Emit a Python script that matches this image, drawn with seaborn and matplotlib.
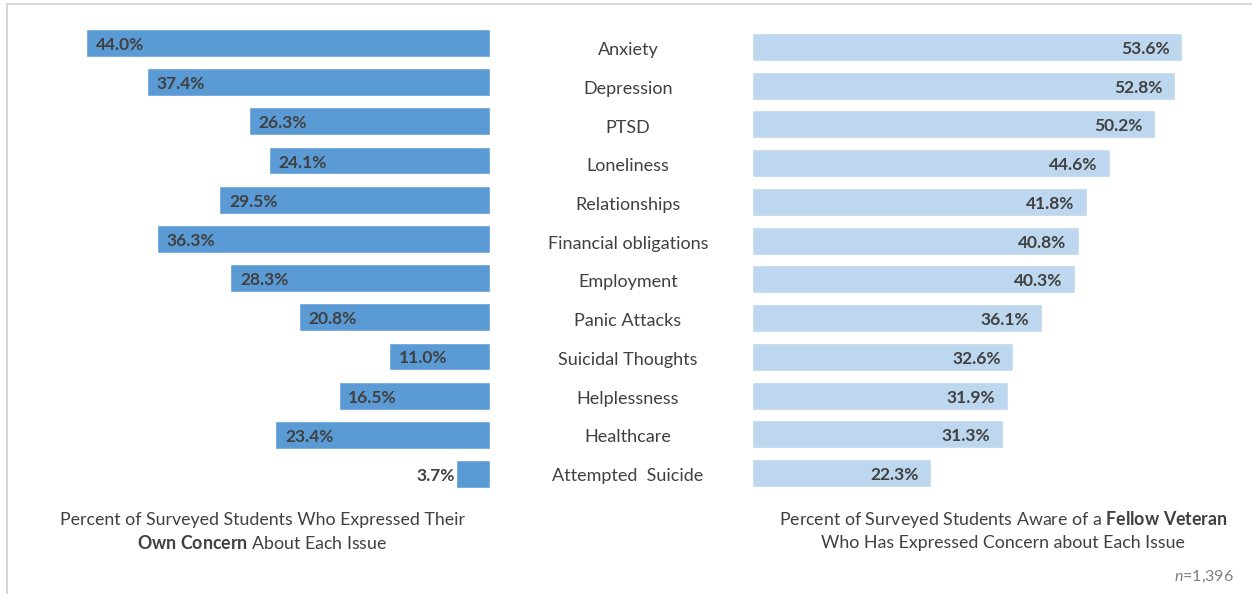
import matplotlib
matplotlib.use("Agg")
import matplotlib.pyplot as plt
import matplotlib.transforms as mtransforms
from matplotlib.lines import Line2D
import seaborn as sns
import pandas as pd

# datos
issues = ["Anxiety", "Depression", "PTSD", "Loneliness", "Relationships",
          "Financial obligations", "Employment", "Panic Attacks",
          "Suicidal Thoughts", "Helplessness", "Healthcare", "Attempted  Suicide"]
own_concern = [44.0, 37.4, 26.3, 24.1, 29.5, 36.3, 28.3, 20.8, 11.0, 16.5, 23.4, 3.7]
fellow_veteran = [53.6, 52.8, 50.2, 44.6, 41.8, 40.8, 40.3, 36.1, 32.6, 31.9, 31.3, 22.3]

df = pd.DataFrame({"issue": issues, "own": own_concern, "fellow": fellow_veteran})

sns.set_theme(style="white")
plt.rcParams["font.family"] = ["Lato", "DejaVu Sans"]
plt.rcParams["mathtext.fontset"] = "custom"
plt.rcParams["mathtext.rm"] = "Lato"
plt.rcParams["mathtext.bf"] = "Lato:bold"
plt.rcParams["mathtext.it"] = "Lato:italic"

W, H = 1252, 594
fig = plt.figure(figsize=(W / 100, H / 100), dpi=100)
fig.patch.set_facecolor("white")

def box(x0, x1, y0, y1):
    # pixeles -> fraccion de figura
    return [x0 / W, 1 - y1 / H, (x1 - x0) / W, (y1 - y0) / H]

dark = "#404040"
ax_l = fig.add_axes(box(40, 490, 23.4, 493.6))
ax_r = fig.add_axes(box(752, 1232, 27.6, 492.4))

sns.barplot(data=df, x="own", y="issue", ax=ax_l, color="#5B9BD5",
            width=0.71, saturation=1, orient="h")
sns.barplot(data=df, x="fellow", y="issue", ax=ax_r, color="#BDD7EE",
            width=0.72, saturation=1, orient="h")

ax_l.set_xlim(450 / 9.18, 0)
ax_r.set_xlim(0, 480 / 8.02)

for ax in (ax_l, ax_r):
    ax.set_ylim(len(issues) - 0.5, -0.5)
    ax.set_xlabel("")
    ax.set_ylabel("")
    ax.set_xticks([])
    ax.set_yticks([])
    for s in ax.spines.values():
        s.set_visible(False)
    ax.patch.set_alpha(0)

# etiquetas de barras
for i, v in enumerate(own_concern):
    if v > 6:
        ax_l.annotate(f"{v:.1f}%", (v, i + 0.05), xytext=(7, 0), textcoords="offset points",
                      ha="left", va="center", fontsize=12.5, fontweight="bold", color=dark)
    else:
        ax_l.annotate(f"{v:.1f}%", (v, i + 0.05), xytext=(-1, 0), textcoords="offset points",
                      ha="right", va="center", fontsize=12.5, fontweight="bold", color=dark)

for i, v in enumerate(fellow_veteran):
    ax_r.annotate(f"{v:.1f}%", (v, i + 0.05), xytext=(-9, 0), textcoords="offset points",
                  ha="right", va="center", fontsize=12.5, fontweight="bold", color=dark)

# categorias en el centro
trans = mtransforms.blended_transform_factory(fig.transFigure, ax_r.transData)
for i, name in enumerate(issues):
    fig.text(628 / W, i + 0.08, name, transform=trans, ha="center", va="center",
             fontsize=13, color=dark)

# textos inferiores
fs = 12.8
fig.text(262 / W, 1 - 520 / H, "Percent of Surveyed Students Who Expressed Their",
         ha="center", va="center", fontsize=fs, color=dark)
fig.text(262 / W, 1 - 543 / H, r"$\bf{Own\ Concern}$ About Each Issue",
         ha="center", va="center", fontsize=fs, color=dark)
fig.text(1003 / W, 1 - 519 / H, r"Percent of Surveyed Students Aware of a $\bf{Fellow\ Veteran}$",
         ha="center", va="center", fontsize=fs, color=dark)
fig.text(1003 / W, 1 - 543 / H, "Who Has Expressed Concern about Each Issue",
         ha="center", va="center", fontsize=fs, color=dark)
fig.text(1234 / W, 1 - 577 / H, r"$\it{n}$=1,396", ha="right", va="center",
         fontsize=11.5, color="#7f7f7f")

# marco
fig.add_artist(Line2D([7 / W, 1], [1 - 4 / H, 1 - 4 / H], color="#D0D0D0", lw=1.2))
fig.add_artist(Line2D([7 / W, 7 / W], [0, 1 - 4 / H], color="#D0D0D0", lw=1.2))

fig.savefig("out.png", dpi=100, facecolor="white")
